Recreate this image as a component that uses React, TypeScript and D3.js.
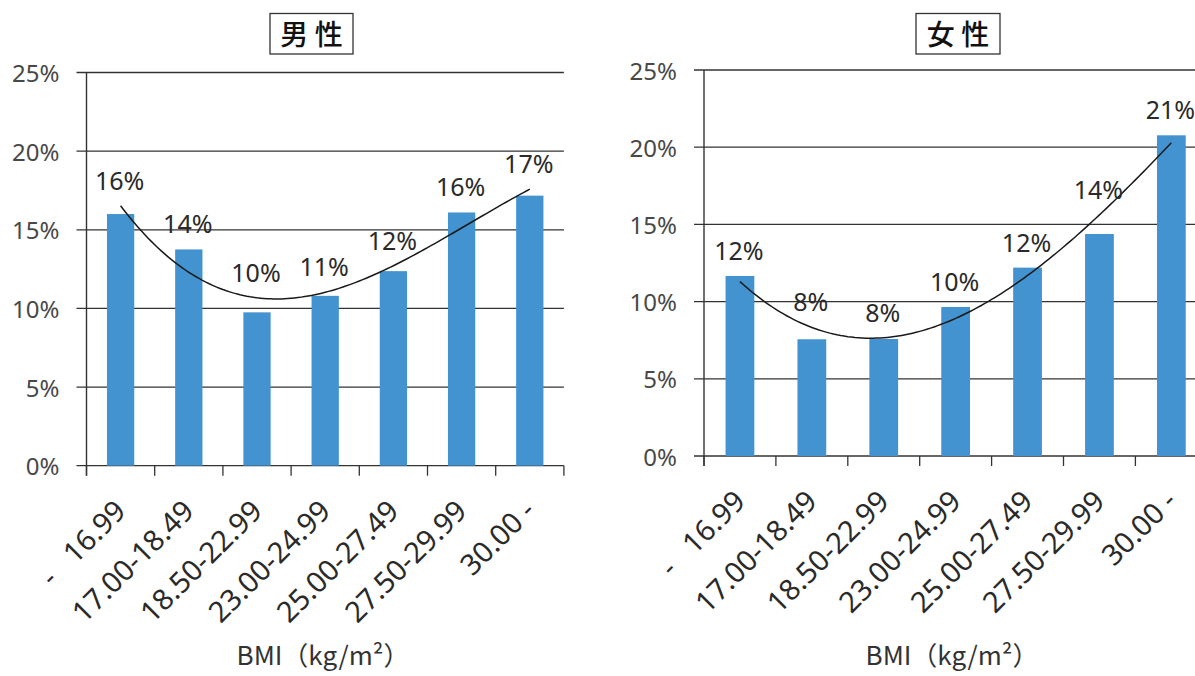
import React from "react";
import * as d3 from "d3";

const categories = ["-   16.99", "17.00-18.49", "18.50-22.99", "23.00-24.99", "25.00-27.49", "27.50-29.99", "30.00 -"];
const maleValues = [16.0, 13.75, 9.75, 10.8, 12.37, 16.1, 17.17];
const femaleValues = [11.66, 7.56, 7.58, 9.65, 12.2, 14.38, 20.77];
const yTicks = [0, 5, 10, 15, 20, 25];
const maleTitle = "男 性";
const femaleTitle = "女 性";
const axisTitle = "BMI（kg/m²）";

const BAR = "#4293cf";
const INK = "#2a2a2a";

// cubic least-squares trendline (like Excel polynomial order 3)
function cubicFit(vals: number[]) {
  const n = 4;
  const A: number[][] = Array.from({ length: n }, () => new Array(n + 1).fill(0));
  vals.forEach((v, i) => {
    const x = i + 1;
    for (let r = 0; r < n; r++) {
      for (let c = 0; c < n; c++) A[r][c] += Math.pow(x, r + c);
      A[r][n] += v * Math.pow(x, r);
    }
  });
  for (let p = 0; p < n; p++) {
    let m = p;
    for (let r = p + 1; r < n; r++) if (Math.abs(A[r][p]) > Math.abs(A[m][p])) m = r;
    [A[p], A[m]] = [A[m], A[p]];
    for (let r = 0; r < n; r++) {
      if (r === p) continue;
      const f = A[r][p] / A[p][p];
      for (let c = p; c <= n; c++) A[r][c] -= f * A[p][c];
    }
  }
  const coef = A.map((row, i) => row[n] / row[i]);
  return (x: number) => coef[0] + coef[1] * x + coef[2] * x * x + coef[3] * x * x * x;
}

type PanelCfg = {
  title: string;
  values: number[];
  left: number;
  band: number;
  yTop: number;
  yBottom: number;
  gridLeft: number;
  titleCx: number;
  titleW: number;
  axisCx: number;
};

function Panel({ cfg }: { cfg: PanelCfg }) {
  const right = cfg.left + cfg.band * categories.length;
  const x = d3.scaleBand<string>().domain(categories).range([cfg.left, right]).paddingInner(0.6).paddingOuter(0.3);
  const xi = d3.scaleLinear().domain([0, categories.length]).range([cfg.left, right]);
  const y = d3.scaleLinear().domain([0, 25]).range([cfg.yBottom, cfg.yTop]);
  const fit = cubicFit(cfg.values);
  const ts = d3.range(1, categories.length + 0.001, 0.05);
  const line = d3
    .line<number>()
    .x((t) => xi(t - 0.5))
    .y((t) => y(fit(t)))
    .curve(d3.curveLinear);
  const boundaries = d3.range(0, categories.length + 1);
  return (
    <g>
      {/* title box */}
      <rect x={cfg.titleCx - cfg.titleW / 2} y={13.5} width={cfg.titleW} height={40.5} fill="none" stroke="#333" strokeWidth={1.3} />
      <text x={cfg.titleCx} y={45} textAnchor="middle" fontFamily="'Noto Sans CJK JP'" fontWeight={500} fontSize={28} fill="#111">
        {cfg.title}
      </text>
      {/* grid */}
      {yTicks.map((t) => (
        <g key={t}>
          <line x1={cfg.gridLeft} x2={right} y1={y(t)} y2={y(t)} stroke="#333" strokeWidth={1.3} />
          <text x={cfg.left - 27} y={y(t) + 9.5} textAnchor="end" fontFamily="'Noto Sans'" fontSize={24} fill="#484848">
            {t}%
          </text>
        </g>
      ))}
      <line x1={cfg.left} x2={cfg.left} y1={cfg.yTop} y2={cfg.yBottom + 10} stroke="#333" strokeWidth={1.4} />
      {boundaries.map((b) => (
        <line key={b} x1={xi(b)} x2={xi(b)} y1={cfg.yBottom} y2={cfg.yBottom + 10} stroke="#333" strokeWidth={1.3} />
      ))}
      {/* bars */}
      {cfg.values.map((v, i) => (
        <rect key={i} x={x(categories[i])} y={y(v)} width={x.bandwidth()} height={y(0) - y(v)} fill={BAR} />
      ))}
      {/* trendline */}
      <path d={line(ts) || ""} fill="none" stroke="#1a1a1a" strokeWidth={1.5} />
      {/* data labels */}
      {cfg.values.map((v, i) => {
        const top = Math.min(y(v), y(fit(i + 1)));
        return (
          <text key={i} x={xi(i + 0.5) - 1} y={top - 16} textAnchor="middle" fontFamily="'Noto Sans'" fontSize={25} fill={INK}>
            {Math.round(v)}%
          </text>
        );
      })}
      {/* category labels */}
      {categories.map((c, i) => (
        <text
          key={c}
          transform={`translate(${xi(i + 0.5) + 7},${cfg.yBottom + 47}) rotate(-45)`}
          textAnchor="end"
          fontFamily="'Noto Sans'"
          fontSize={29}
          fill={INK}
        >
          {c.replace(/ /g, "\u00a0")}
        </text>
      ))}
      <text x={cfg.axisCx} y={665} textAnchor="middle" fontFamily="'Noto Sans CJK JP'" fontSize={26} fill="#333">
        {axisTitle}
      </text>
    </g>
  );
}

export default function App() {
  const male: PanelCfg = {
    title: maleTitle,
    values: maleValues,
    left: 86.5,
    band: 68.2,
    yTop: 72.5,
    yBottom: 465.7,
    gridLeft: 76.5,
    titleCx: 311.5,
    titleW: 83,
    axisCx: 323,
  };
  const female: PanelCfg = {
    title: femaleTitle,
    values: femaleValues,
    left: 704,
    band: 71.9,
    yTop: 70,
    yBottom: 456,
    gridLeft: 694,
    titleCx: 958,
    titleW: 84,
    axisCx: 952,
  };
  return (
    <svg width={1195} height={676} style={{ position: "absolute", left: 0, top: 0, background: "#fff" }}>
      <rect width={1195} height={676} fill="#fff" />
      <Panel cfg={male} />
      <Panel cfg={female} />
    </svg>
  );
}
